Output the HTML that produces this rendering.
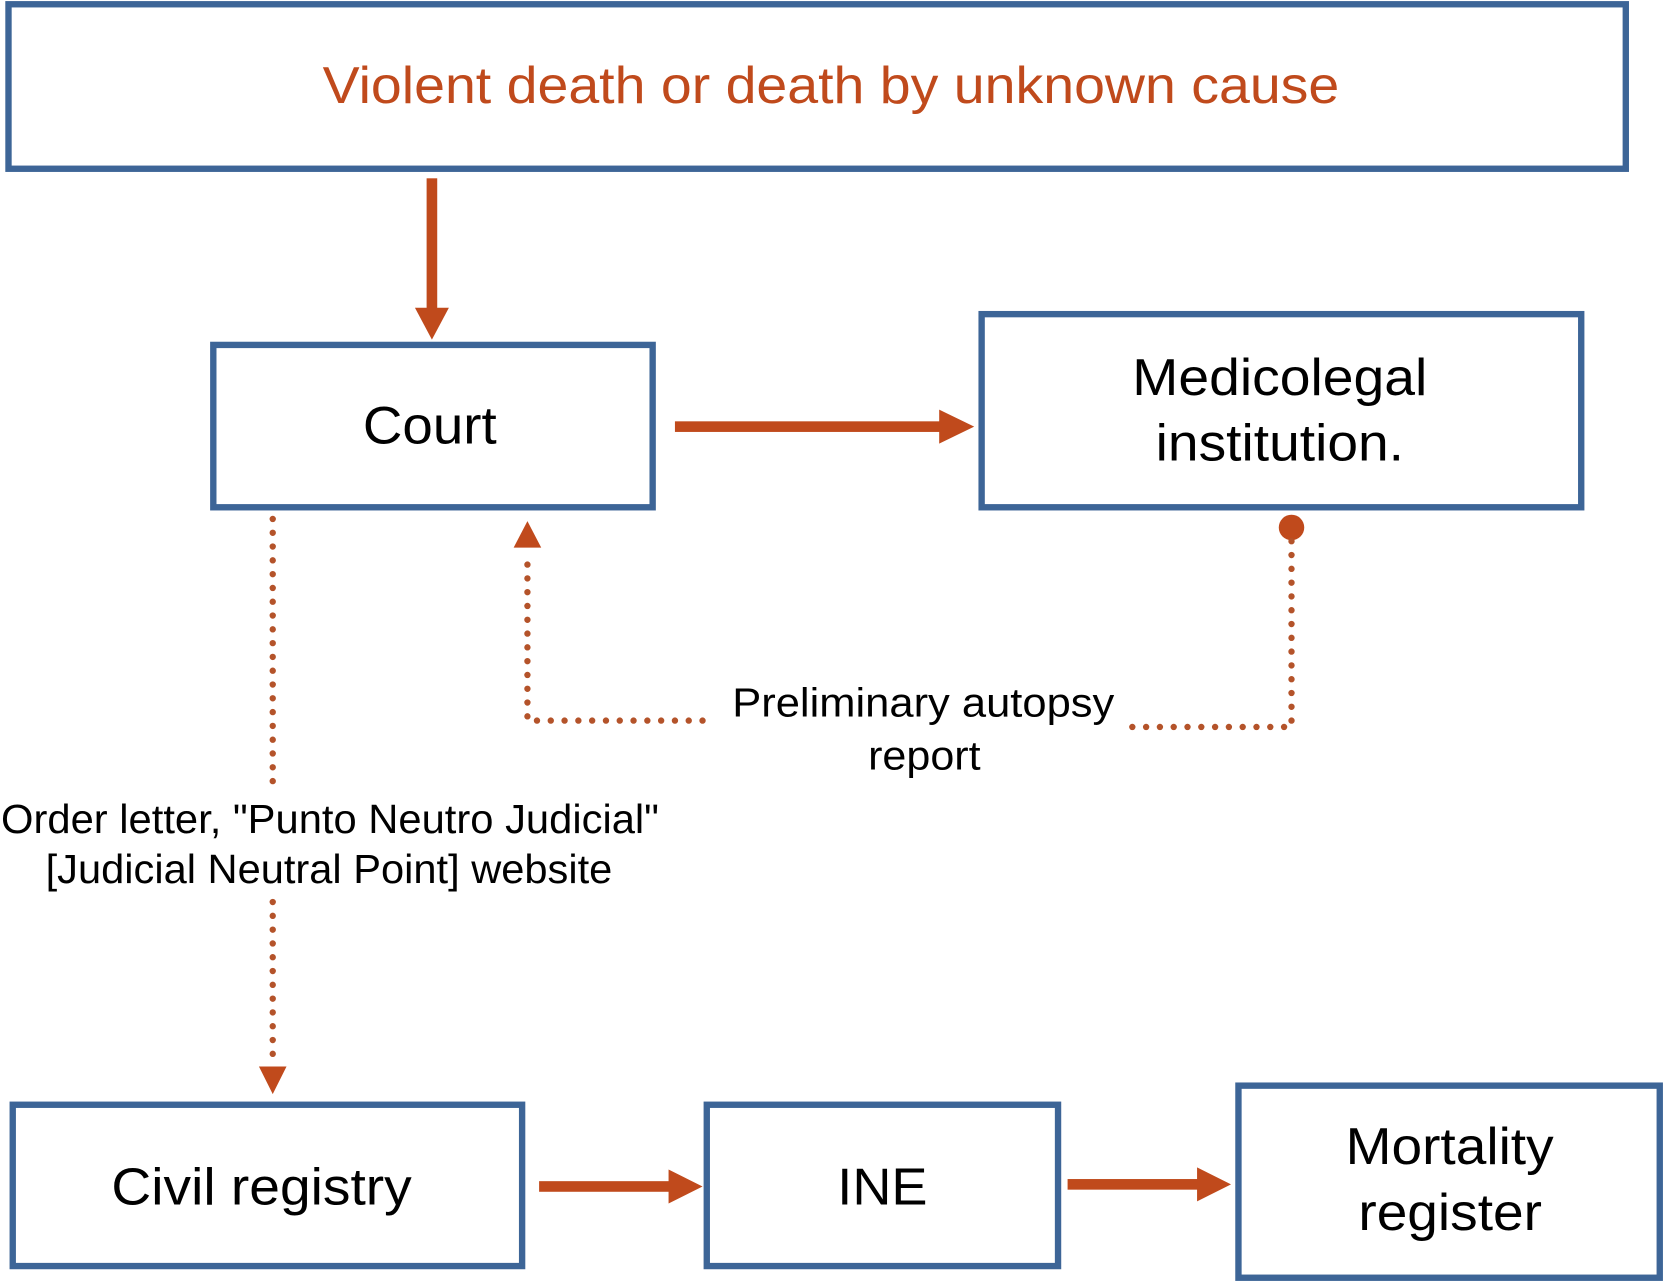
<!DOCTYPE html>
<html><head><meta charset="utf-8"><style>
html,body{margin:0;padding:0;background:#fff;}
svg{display:block;}
text{font-family:"Liberation Sans",Arial,sans-serif;}
</style></head><body>
<svg width="1664" height="1282" viewBox="0 0 1568 1208" xmlns="http://www.w3.org/2000/svg">
<g fill="none" stroke="#3d6597" stroke-width="6">
<rect x="8" y="4" width="1524" height="155"/>
<rect x="201" y="325" width="414" height="153"/>
<rect x="925" y="296" width="565" height="182"/>
<rect x="12" y="1041" width="480" height="152"/>
<rect x="666" y="1041" width="331" height="152"/>
<rect x="1167" y="1023" width="397" height="181"/>
</g>
<g fill="#c04a1c">
<rect x="402" y="168" width="10" height="124"/>
<polygon points="391,290 423,290 407,320"/>
<rect x="636" y="397" width="252" height="10"/>
<polygon points="885,386 885,418 918,402"/>
<rect x="508" y="1113" width="125" height="10"/>
<polygon points="630,1102 630,1134 662,1118"/>
<rect x="1006" y="1111" width="125" height="10"/>
<polygon points="1128,1100 1128,1132 1160,1116"/>
<polygon points="484,516 510,516 497,491"/>
<polygon points="244,1005 270,1005 257,1031"/>
<circle cx="1217" cy="497" r="12"/>
</g>
<g fill="none" stroke="#b4532a" stroke-width="6" stroke-linecap="round" stroke-dasharray="0 13">
<path d="M257 489 V740"/>
<path d="M257 850 V995"/>
<path d="M662 679 H497 V525"/>
<path d="M1217 510 V685 H1055"/>
</g>
<text x="304" y="97" font-size="49" fill="#c04a1c" textLength="958" lengthAdjust="spacingAndGlyphs">Violent death or death by unknown cause</text>
<g fill="#000">
<text x="342" y="418" font-size="50" textLength="126" lengthAdjust="spacingAndGlyphs">Court</text>
<text x="1067" y="372" font-size="49" textLength="278" lengthAdjust="spacingAndGlyphs">Medicolegal</text>
<text x="1089" y="434" font-size="49" textLength="234" lengthAdjust="spacingAndGlyphs">institution.</text>
<text x="690" y="675" font-size="38" textLength="360" lengthAdjust="spacingAndGlyphs">Preliminary autopsy</text>
<text x="818" y="725" font-size="38" textLength="106" lengthAdjust="spacingAndGlyphs">report</text>
<text x="1" y="785" font-size="38" textLength="620" lengthAdjust="spacingAndGlyphs">Order letter, "Punto Neutro Judicial"</text>
<text x="43" y="832" font-size="38" textLength="534" lengthAdjust="spacingAndGlyphs">[Judicial Neutral Point] website</text>
<text x="105" y="1135" font-size="49" textLength="283" lengthAdjust="spacingAndGlyphs">Civil registry</text>
<text x="789" y="1135" font-size="49" textLength="85" lengthAdjust="spacingAndGlyphs">INE</text>
<text x="1268" y="1097" font-size="49" textLength="196" lengthAdjust="spacingAndGlyphs">Mortality</text>
<text x="1280" y="1159" font-size="49" textLength="173" lengthAdjust="spacingAndGlyphs">register</text>
</g>
</svg>
</body></html>
